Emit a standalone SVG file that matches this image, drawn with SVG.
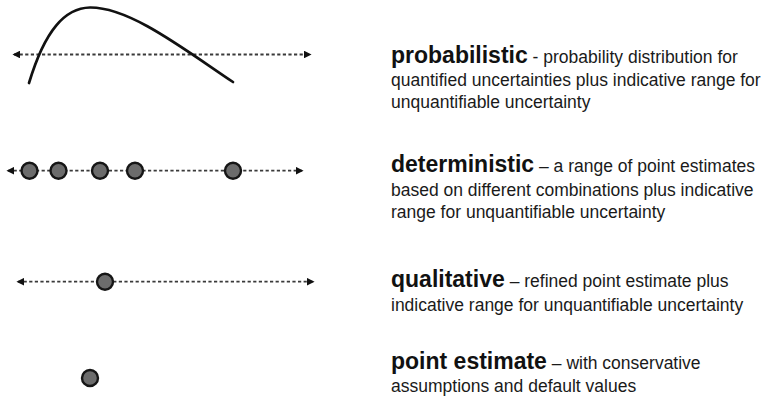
<svg xmlns="http://www.w3.org/2000/svg" width="766" height="413" viewBox="0 0 766 413">
<style>
.bg{fill:#ffffff}
.axis{stroke:#3a3a3a;stroke-width:1.8;stroke-dasharray:3.2 2.4;fill:none}
.curve{stroke:#111111;stroke-width:2.7;fill:none;stroke-linecap:round}
.pt{fill:#6c6c6c;stroke:#161616;stroke-width:2.4}
.lbl{font-family:"Liberation Sans",Arial,sans-serif;font-size:17.5px;fill:#1a1a1a}
.hd{font-weight:bold;font-size:23px;fill:#111111}
</style>
<defs>
<marker id="ah" viewBox="0 0 10 10" refX="8" refY="5" markerWidth="4.4" markerHeight="4.4" orient="auto-start-reverse" markerUnits="strokeWidth">
<path d="M0,0 L10,5 L0,10 z" fill="#111111"/>
</marker>
</defs>
<rect class="bg" x="0" y="0" width="766" height="413"/>
<g id="connectors">
<line class="axis" x1="14" y1="54.5" x2="310" y2="54.5" marker-start="url(#ah)" marker-end="url(#ah)"/>
<line class="axis" x1="8" y1="170.7" x2="302" y2="170.7" marker-start="url(#ah)" marker-end="url(#ah)"/>
<line class="axis" x1="18" y1="281.7" x2="313" y2="281.7" marker-start="url(#ah)" marker-end="url(#ah)"/>
</g>
<g id="probabilistic">
<path class="curve" d="M29,83 C45,30 65,8 90,7.5 C130,7 185,50 233,82"/>
<text class="lbl" x="391" y="63"><tspan class="hd">probabilistic</tspan> - probability distribution for</text>
<text class="lbl" x="391" y="86">quantified uncertainties plus indicative range for</text>
<text class="lbl" x="391" y="108">unquantifiable uncertainty</text>
</g>
<g id="deterministic">
<circle class="pt" cx="29.5" cy="170.7" r="8"/>
<circle class="pt" cx="58.5" cy="170.7" r="8"/>
<circle class="pt" cx="100" cy="170.7" r="8"/>
<circle class="pt" cx="135" cy="170.7" r="8"/>
<circle class="pt" cx="233" cy="170.7" r="8"/>
<text class="lbl" x="391" y="172"><tspan class="hd">deterministic</tspan> – a range of point estimates</text>
<text class="lbl" x="391" y="196">based on different combinations plus indicative</text>
<text class="lbl" x="391" y="218">range for unquantifiable uncertainty</text>
</g>
<g id="qualitative">
<circle class="pt" cx="105" cy="281.7" r="8"/>
<text class="lbl" x="391" y="287"><tspan class="hd">qualitative</tspan> – refined point estimate plus</text>
<text class="lbl" x="391" y="311">indicative range for unquantifiable uncertainty</text>
</g>
<g id="point-estimate">
<circle class="pt" cx="90" cy="378" r="8"/>
<text class="lbl" x="391" y="369"><tspan class="hd">point estimate</tspan> – with conservative</text>
<text class="lbl" x="391" y="392">assumptions and default values</text>
</g>
</svg>
